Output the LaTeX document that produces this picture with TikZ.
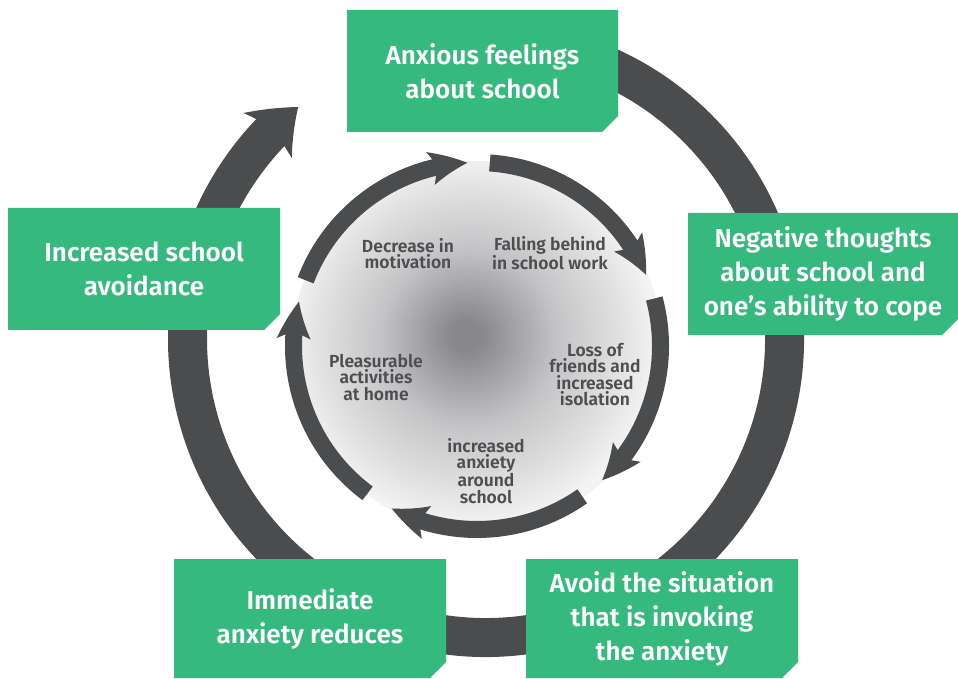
\documentclass[tikz,border=0pt]{standalone}
\usepackage{fontspec}
\setmainfont{Fira Sans}[BoldFont={Fira Sans SemiBold}]
\usetikzlibrary{arrows.meta,bending,calc}
\definecolor{boxgreen}{HTML}{36B97E}
\definecolor{ringgray}{HTML}{4B4C4E}
\definecolor{txtgray}{HTML}{4D4E50}
\definecolor{dcA}{HTML}{88888A}
\definecolor{dcB}{HTML}{C4C4C6}
\definecolor{dcM}{HTML}{E0E0E1}
\definecolor{dcC}{HTML}{F3F3F3}
\pgfdeclareradialshading{discshade}{\pgfpoint{-1.5bp}{1.5bp}}{color(0bp)=(dcA); color(2bp)=(dcA); color(12bp)=(dcB); color(20bp)=(dcM); color(25bp)=(dcC); color(50bp)=(dcC)}
\begin{document}
\begin{tikzpicture}[x=1pt,y=1pt,
  outerarc/.style={draw=ringgray, line width=39pt,
    -{Stealth[length=42pt,width=66pt,inset=10pt,line width=0pt,bend]}},
  innerarc/.style={draw=ringgray, line width=17pt,
    -{Stealth[length=38pt,width=34pt,inset=8pt,line width=0pt,bend]}},
  box/.style={minimum width=272pt, minimum height=122pt, inner sep=0pt,
    text=white, align=center, font=\bfseries\fontsize{26}{34}\selectfont,
    path picture={\fill[boxgreen] (path picture bounding box.south west)
      -- (path picture bounding box.north west)
      -- (path picture bounding box.north east)
      -- ([yshift=16pt]path picture bounding box.south east)
      -- ([xshift=-16pt]path picture bounding box.south east) -- cycle;}},
  intext/.style={text=txtgray, align=center, inner sep=0pt,
    font=\bfseries\fontsize{17.5}{16.6}\selectfont}]
\useasboundingbox (0,0) rectangle (958,678);
\coordinate (co) at (486,339);
\coordinate (ci) at (477,332);
% outer ring
\draw[outerarc] ([shift={(100:298.5pt)}]co) arc[start angle=100, end angle=-231, radius=298.5pt];
% inner disc
\shade[shading=discshade] (ci) circle[radius=185pt];
% inner arrows
\foreach \a/\b in {159/93, 86/22.8, 15/-47, -55/-117.7, -126.6/-194}
  \draw[innerarc] ([shift={(\a:183.5pt)}]ci) arc[start angle=\a, end angle=\b, radius=183.5pt];
% boxes
\node[box, minimum width=271pt] (b1) at (482.5,607) {Anxious feelings\\about school};
\node[box] (b2) at (144,409) {Increased school\\avoidance};
\node[box, minimum width=270pt] (b3) at (823,404) {Negative thoughts\\about school and\\one’s ability to cope};
\node[box, minimum height=119pt] (b4) at (310,59.5) {Immediate\\anxiety reduces};
\node[box, minimum height=119pt] (b5) at (662,59.5) {Avoid the situation\\that is invoking\\the anxiety};
% inner texts
\node[intext] (t1) at (408,424.5) {Decrease in\\motivation};
\node[intext] (t2) at (550,424.5) {Falling behind\\in school work};
\node[intext] (t3) at (595,303.5) {Loss of\\friends and\\increased\\isolation};
\node[intext] (t4) at (376,300.5) {Pleasurable\\activities\\at home};
\node[intext] (t5) at (486,207) {increased\\anxiety\\around\\school};
\end{tikzpicture}
\end{document}
